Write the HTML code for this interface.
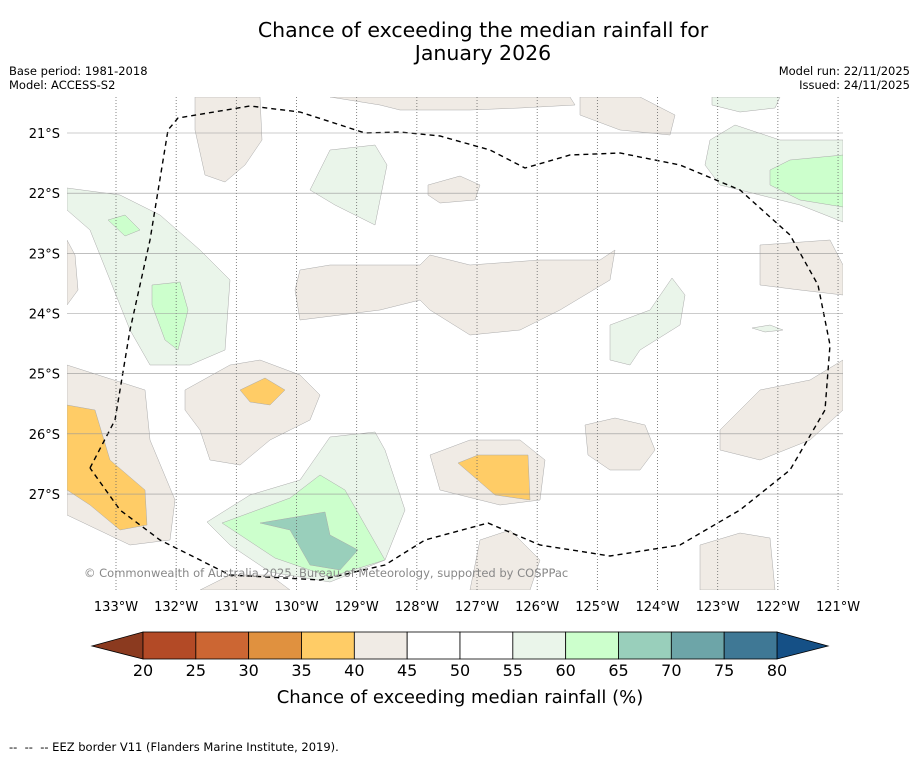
<!DOCTYPE html>
<html><head><meta charset="utf-8">
<style>
body{margin:0;background:#fff;font-family:"DejaVu Sans","Liberation Sans",sans-serif;}
svg{display:block}
text{font-family:"DejaVu Sans","Liberation Sans",sans-serif;}
</style></head>
<body>
<svg id="chart" width="919" height="758" xmlns="http://www.w3.org/2000/svg">
<text x="483" y="37" font-size="20.5" text-anchor="middle">Chance of exceeding the median rainfall for</text>
<text x="483" y="60" font-size="20.5" text-anchor="middle">January 2026</text>
<text x="9" y="75" font-size="11.5">Base period: 1981-2018</text>
<text x="9" y="89" font-size="11.5">Model: ACCESS-S2</text>
<text x="910" y="75" font-size="11.5" text-anchor="end">Model run: 22/11/2025</text>
<text x="910" y="89" font-size="11.5" text-anchor="end">Issued: 24/11/2025</text>
<defs><clipPath id="mapclip"><rect x="67" y="97" width="776" height="493"/></clipPath></defs>
<g id="map" clip-path="url(#mapclip)"></g>
<g id="axes"></g>
<g id="cbar"></g>
<text x="460" y="703" font-size="18" text-anchor="middle">Chance of exceeding median rainfall (%)</text>
<text x="9" y="751" font-size="11.5" style="white-space:pre">--  --  -- EEZ border V11 (Flanders Marine Institute, 2019).</text>
</svg>
<script>
const lonTicks=[-133,-132,-131,-130,-129,-128,-127,-126,-125,-124,-123,-122,-121];
const latTicks=[-21,-22,-23,-24,-25,-26,-27];
const binEdges=[20,25,30,35,40,45,50,55,60,65,70,75,80];
const binColors=["#b34a26","#cc6633","#e0913f","#ffcc66","#f0ebe5","#ffffff","#ffffff","#eaf5ea","#ccffcc","#99cfbb","#6da5a8","#3f7895"];
const lowColor="#8b3a1f", highColor="#155086";
const regions=[
[42,[[67,365],[145,390],[150,440],[175,500],[170,540],[130,545],[67,515]]],
[37,[[67,405],[95,410],[110,460],[145,490],[147,525],[120,530],[90,505],[67,490]]],
[57,[[67,188],[120,195],[160,215],[200,250],[230,280],[225,350],[190,365],[150,365],[130,330],[110,280],[90,230],[67,210]]],
[62,[[152,285],[180,282],[188,310],[178,350],[165,340],[152,305]]],
[62,[[108,220],[125,215],[140,230],[125,236]]],
[57,[[330,150],[375,145],[387,165],[375,225],[335,205],[310,190]]],
[57,[[710,140],[735,125],[780,140],[843,140],[843,222],[800,205],[720,185],[705,165]]],
[62,[[770,170],[790,160],[843,155],[843,207],[800,200],[770,185]]],
[57,[[207,522],[250,495],[300,480],[330,437],[375,432],[385,450],[405,510],[385,560],[330,582],[270,572],[230,545]]],
[62,[[222,523],[290,498],[320,475],[345,490],[385,560],[330,577],[275,558]]],
[67,[[260,523],[325,512],[330,535],[358,550],[340,570],[310,565],[290,530]]],
[42,[[185,390],[230,365],[260,360],[300,375],[320,395],[310,420],[270,440],[240,465],[210,460],[200,430],[185,410]]],
[37,[[240,390],[265,378],[285,390],[270,405],[250,402]]],
[42,[[430,455],[470,440],[520,440],[545,460],[540,500],[500,505],[440,490]]],
[37,[[458,463],[478,455],[528,455],[530,500],[495,495]]],
[42,[[300,270],[330,265],[420,265],[430,255],[470,265],[540,260],[600,260],[615,250],[610,280],[560,310],[520,330],[470,335],[430,310],[420,300],[380,310],[340,315],[300,320],[295,290]]],
[42,[[195,97],[260,97],[262,140],[245,165],[225,182],[205,175],[195,130]]],
[42,[[330,97],[570,97],[575,105],[520,108],[470,110],[400,110],[380,105]]],
[42,[[580,97],[640,97],[675,115],[670,135],[620,130],[580,115]]],
[42,[[428,185],[460,176],[480,185],[475,200],[440,203],[428,195]]],
[42,[[760,245],[830,240],[843,265],[843,295],[800,290],[760,285]]],
[42,[[720,430],[760,390],[810,380],[843,360],[843,410],[810,440],[760,460],[720,450]]],
[42,[[585,425],[615,418],[645,425],[655,450],[640,470],[610,470],[588,455]]],
[42,[[700,545],[740,533],[770,538],[775,590],[700,590]]],
[42,[[480,540],[510,530],[540,560],[530,590],[470,590]]],
[42,[[200,590],[230,575],[270,575],[290,590]]],
[42,[[67,240],[75,255],[78,290],[67,305]]],
[57,[[610,325],[650,310],[672,278],[685,295],[680,325],[640,350],[630,365],[610,360]]],
[57,[[712,97],[780,97],[775,108],[740,112],[712,105]]],
[57,[[752,328],[770,325],[783,330],[765,332]]]
];
const eez=[[90,468],[115,420],[130,330],[150,240],[168,130],[178,118],[250,106],[300,112],[365,133],[400,132],[440,136],[490,150],[525,168],[570,155],[620,153],[680,165],[740,190],[790,235],[818,285],[830,345],[825,410],[790,470],[740,510],[680,545],[610,556],[540,545],[488,523],[425,540],[385,565],[320,580],[230,575],[160,540],[120,510],[90,468]];

const NS="http://www.w3.org/2000/svg";
const xOf=lon=>116+(lon+133)*60.17;
const yOf=lat=>133+(-21-lat)*60.17;
const cbX=v=>143+(v-20)*(634/60);
function colorFor(v){for(let i=0;i<binEdges.length-1;i++){if(v>=binEdges[i]&&v<binEdges[i+1])return binColors[i];}return highColor;}
function mk(tag,attrs,parent){const e=document.createElementNS(NS,tag);for(const k in attrs)e.setAttribute(k,attrs[k]);parent.appendChild(e);return e;}
const map=document.getElementById('map');
regions.forEach(r=>{
  const p=mk('polygon',{points:r[1].map(q=>q.join(',')).join(' '),fill:colorFor(r[0]),stroke:'#aaa','stroke-width':0.5},map);
  
  
});
const axes=document.getElementById('axes');
lonTicks.forEach(l=>{
  const x=xOf(l);
  const ln=mk('line',{x1:x,x2:x,y1:97,y2:590,stroke:'#666','stroke-width':0.8,'stroke-dasharray':'1,2'},axes);
  
  
  const t=mk('text',{x:x,y:611,'font-size':13,'text-anchor':'middle'},axes);
  t.textContent=Math.abs(l)+'°W';
  
  
});
latTicks.forEach(l=>{
  const y=yOf(l);
  const ln=mk('line',{x1:67,x2:843,y1:y,y2:y,stroke:'#999','stroke-width':0.6},axes);
  
  
  const t=mk('text',{x:60,y:y+5,'font-size':13,'text-anchor':'end'},axes);
  t.textContent=Math.abs(l)+'°S';
  
  
});
const e=mk('polyline',{points:eez.map(q=>q.join(',')).join(' '),fill:'none',stroke:'#000','stroke-width':1.4,'stroke-dasharray':'5,4'},map);


const cr=mk('text',{x:84,y:577,'font-size':11.5,fill:'#888'},map);
cr.textContent='© Commonwealth of Australia 2025, Bureau of Meteorology, supported by COSPPac';


const cb=document.getElementById('cbar');
const lo=mk('polygon',{points:`92,646 ${cbX(20)},632 ${cbX(20)},659`,fill:lowColor,stroke:'#000','stroke-width':0.8},cb);


const hi=mk('polygon',{points:`${cbX(80)},632 828,646 ${cbX(80)},659`,fill:highColor,stroke:'#000','stroke-width':0.8},cb);


binColors.forEach((c,i)=>{
  const x0=cbX(binEdges[i]),x1=cbX(binEdges[i+1]);
  const r=mk('rect',{x:x0,y:632,width:x1-x0,height:27,fill:c,stroke:'#000','stroke-width':0.8},cb);
  
  
});
binEdges.forEach(v=>{
  const t=mk('text',{x:cbX(v),y:676,'font-size':16,'text-anchor':'middle'},cb);
  t.textContent=v;
  
  
});
</script>
</body></html>
